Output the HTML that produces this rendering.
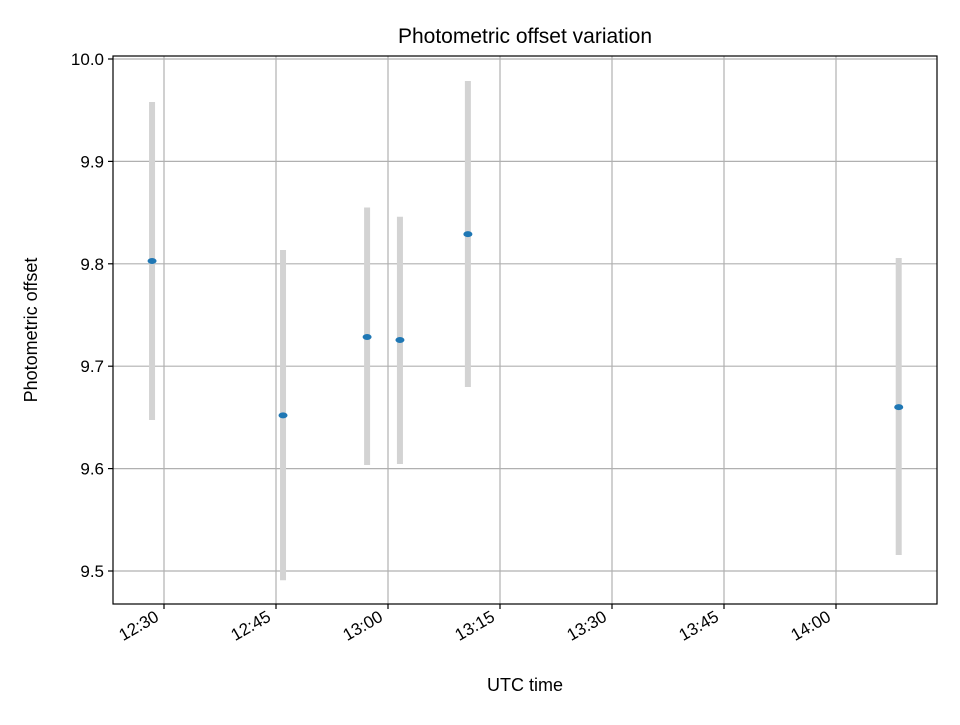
<!DOCTYPE html>
<html><head><meta charset="utf-8"><style>
body{margin:0;background:#fff}
svg text{font-family:"Liberation Sans","DejaVu Sans",sans-serif;fill:#000}
</style></head><body>
<svg id="chart" width="960" height="720" xmlns="http://www.w3.org/2000/svg">
<rect width="960" height="720" fill="#fff"/>
<text x="525" y="43" font-size="21" text-anchor="middle">Photometric offset variation</text>
<g id="grid"></g><g id="marks"></g><g id="axes"></g>
<rect x="113" y="56" width="824" height="548" fill="none" stroke="#000" stroke-width="1.2"/>
<text x="525" y="691" font-size="18" text-anchor="middle">UTC time</text>
<text transform="translate(37,330) rotate(-90)" font-size="18" text-anchor="middle">Photometric offset</text>
</svg>
<script>
// minutes after 12:30
const times=[-1.6,15.94,27.2,31.6,40.7,98.4];
const values=[9.8027,9.652,9.7285,9.7256,9.829,9.660];
const errLo=[9.6475,9.491,9.6035,9.6045,9.6797,9.5156];
const errHi=[9.958,9.8135,9.855,9.846,9.9785,9.8057];
const xTicks=[0,15,30,45,60,75,90];
const xTickLabels=["12:30","12:45","13:00","13:15","13:30","13:45","14:00"];
const yTicks=[9.5,9.6,9.7,9.8,9.9,10.0];
const yTickLabels=["9.5","9.6","9.7","9.8","9.9","10.0"];
const L=113,R=937,T=56,B=604;
const x=m=>164+m*112/15;
const y=v=>59+(10.0-v)*1024;
const NS="http://www.w3.org/2000/svg";
function mk(tag,attrs,parent,txt){const e=document.createElementNS(NS,tag);for(const k in attrs)e.setAttribute(k,attrs[k]);if(txt!==undefined)e.textContent=txt;document.getElementById(parent).appendChild(e);return e;}
xTicks.forEach((t,i)=>{
  const g=mk('line',{x1:x(t),x2:x(t),y1:T,y2:B,stroke:'#b0b0b0','stroke-width':1.2},'grid');
  
  
  const tk=mk('line',{x1:x(t),x2:x(t),y1:B,y2:B+5,stroke:'#000','stroke-width':1.2},'axes');
  
  
  const lb=mk('text',{x:0,y:0,'font-size':17,'text-anchor':'end',transform:`translate(${x(t)-4},${B+16}) rotate(-30)`},'axes',xTickLabels[i]);
  
  
});
yTicks.forEach((t,i)=>{
  const g=mk('line',{x1:L,x2:R,y1:y(t),y2:y(t),stroke:'#b0b0b0','stroke-width':1.2},'grid');
  
  
  const tk=mk('line',{x1:L-5,x2:L,y1:y(t),y2:y(t),stroke:'#000','stroke-width':1.2},'axes');
  
  
  const lb=mk('text',{x:L-9,y:y(t)+6,'font-size':17,'text-anchor':'end'},'axes',yTickLabels[i]);
  
  
});
times.forEach((t,i)=>{
  const e=mk('line',{x1:x(t),x2:x(t),y1:y(errHi[i]),y2:y(errLo[i]),stroke:'#d3d3d3','stroke-width':6},'marks');
  
  
});
times.forEach((t,i)=>{
  const p=mk('ellipse',{cx:x(t),cy:y(values[i]),rx:4.5,ry:3,fill:'#1f77b4'},'marks');
  
  
});
</script>
</body></html>
